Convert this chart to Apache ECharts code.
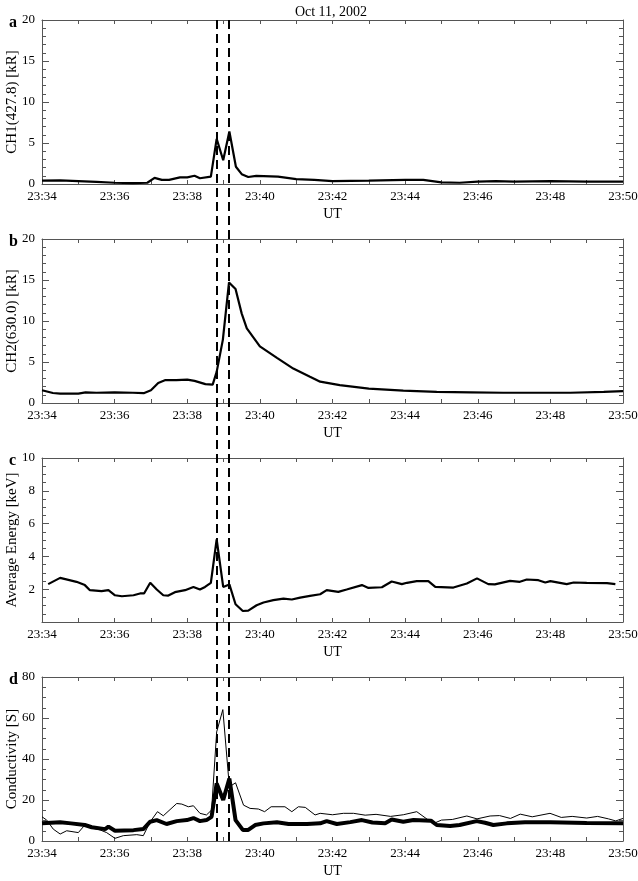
<!DOCTYPE html>
<html><head><meta charset="utf-8">
<script src="https://cdn.jsdelivr.net/npm/echarts@6/dist/echarts.min.js"></script>
<style>html,body{margin:0;padding:0;background:#fff}#c{width:638px;height:881px}</style>
</head><body><div id="c"></div>
<script>
// time in minutes after 23:34 UT
const xTicks = ['23:34','23:36','23:38','23:40','23:42','23:44','23:46','23:48','23:50'];
const eventTimes = [4.81, 5.15];

const tA = [0, 0.5, 1.0, 1.5, 2.0, 2.5, 2.9, 3.1, 3.3, 3.5, 3.8, 4.0, 4.2, 4.35, 4.65, 4.81, 4.99, 5.16, 5.34, 5.5, 5.68, 5.9, 6.5, 7.0, 7.5, 8.0, 9.0, 10.0, 10.5, 11.0, 11.5, 12.0, 12.5, 13.0, 14.0, 15.0, 16.0];
const ch1 = [0.4, 0.45, 0.35, 0.25, 0.15, 0.1, 0.15, 0.75, 0.5, 0.5, 0.8, 0.8, 1.0, 0.7, 0.9, 5.5, 2.9, 6.4, 2.1, 1.2, 0.85, 1.0, 0.9, 0.6, 0.5, 0.35, 0.4, 0.5, 0.5, 0.2, 0.15, 0.3, 0.35, 0.3, 0.35, 0.3, 0.3];

const tB = [0, 0.3, 0.5, 1.0, 1.2, 1.5, 2.0, 2.5, 2.8, 3.0, 3.2, 3.4, 3.7, 4.0, 4.2, 4.5, 4.7, 4.81, 4.98, 5.15, 5.33, 5.5, 5.64, 6.0, 6.47, 6.92, 7.38, 7.66, 8.2, 9.0, 9.95, 10.87, 11.8, 12.7, 13.6, 14.55, 15.47, 16.0];
const ch2 = [1.55, 1.22, 1.15, 1.15, 1.3, 1.25, 1.3, 1.25, 1.2, 1.55, 2.45, 2.8, 2.8, 2.85, 2.7, 2.3, 2.25, 3.8, 7.7, 14.7, 13.9, 10.9, 9.1, 6.9, 5.5, 4.2, 3.2, 2.6, 2.17, 1.76, 1.5, 1.35, 1.3, 1.25, 1.25, 1.25, 1.35, 1.45];

const tC = [0.17, 0.5, 0.95, 1.18, 1.32, 1.64, 1.83, 2.01, 2.2, 2.52, 2.7, 2.81, 2.98, 3.16, 3.34, 3.48, 3.66, 3.94, 4.17, 4.35, 4.49, 4.65, 4.81, 4.99, 5.16, 5.33, 5.53, 5.68, 5.91, 6.1, 6.37, 6.65, 6.88, 7.11, 7.38, 7.66, 7.84, 8.16, 8.39, 8.81, 8.99, 9.36, 9.63, 9.91, 10.05, 10.32, 10.64, 10.83, 11.33, 11.7, 11.98, 12.29, 12.47, 12.89, 13.16, 13.35, 13.67, 13.86, 14.0, 14.45, 14.64, 15.0, 15.56, 15.79];
const energy = [2.31, 2.69, 2.45, 2.25, 1.94, 1.88, 1.94, 1.63, 1.57, 1.63, 1.74, 1.74, 2.39, 1.98, 1.63, 1.61, 1.82, 1.94, 2.14, 1.98, 2.14, 2.39, 5.04, 2.14, 2.29, 1.08, 0.67, 0.69, 1.02, 1.19, 1.33, 1.43, 1.37, 1.49, 1.59, 1.69, 1.94, 1.84, 1.98, 2.25, 2.08, 2.12, 2.47, 2.31, 2.39, 2.49, 2.49, 2.14, 2.1, 2.35, 2.66, 2.31, 2.29, 2.51, 2.45, 2.59, 2.55, 2.41, 2.49, 2.31, 2.41, 2.39, 2.37, 2.31];

const tD1 = [0, 0.5, 0.8, 1.18, 1.37, 1.74, 1.83, 2.01, 2.52, 2.79, 2.98, 3.16, 3.43, 3.71, 3.99, 4.17, 4.35, 4.53, 4.67, 4.81, 4.99, 5.16, 5.33, 5.53, 5.68, 5.87, 6.1, 6.47, 6.79, 7.3, 7.66, 7.84, 8.12, 8.49, 8.81, 9.1, 9.45, 9.63, 9.95, 10.23, 10.71, 10.87, 11.24, 11.5, 11.97, 12.2, 12.43, 12.8, 13.3, 14.0, 15.0, 16.0];
const sigThick = [8.6, 9.1, 8.6, 7.8, 6.7, 5.8, 7.0, 5.0, 5.3, 5.8, 9.4, 10.2, 8.3, 9.7, 10.2, 11.2, 9.7, 10.2, 11.8, 28.1, 20.0, 30.5, 10.2, 5.4, 5.4, 7.8, 8.6, 9.1, 8.3, 8.3, 8.6, 9.7, 8.3, 9.2, 10.2, 9.0, 8.7, 10.5, 9.4, 10.2, 9.9, 7.8, 7.3, 7.8, 9.7, 8.9, 7.8, 8.6, 9.2, 9.2, 8.8, 8.6];

const tD2 = [0, 0.13, 0.31, 0.5, 0.68, 1.0, 1.18, 1.41, 1.6, 1.78, 2.01, 2.24, 2.61, 2.79, 2.98, 3.18, 3.34, 3.71, 3.85, 4.03, 4.17, 4.35, 4.53, 4.67, 4.81, 4.98, 5.16, 5.33, 5.55, 5.73, 5.96, 6.13, 6.31, 6.69, 6.88, 7.06, 7.25, 7.52, 7.66, 8.0, 8.3, 8.58, 8.9, 9.2, 9.6, 9.95, 10.32, 10.64, 10.83, 11.0, 11.3, 11.7, 11.98, 12.34, 12.6, 12.9, 13.17, 13.5, 13.99, 14.3, 14.6, 15.0, 15.3, 15.6, 15.8, 16.0];
const sigThin = [11.8, 10.2, 5.8, 3.4, 5.0, 4.1, 7.8, 6.2, 5.4, 4.1, 1.3, 2.6, 3.1, 2.6, 9.4, 14.3, 12.3, 18.3, 18.0, 16.7, 17.2, 13.5, 12.7, 15.1, 53.2, 64.1, 26.4, 28.4, 17.5, 15.9, 15.6, 14.3, 16.7, 16.7, 14.3, 16.7, 16.4, 12.7, 13.5, 12.8, 13.5, 13.5, 12.6, 13.0, 12.0, 12.8, 14.3, 10.2, 8.9, 10.2, 10.5, 12.2, 10.8, 12.2, 12.4, 11.0, 13.1, 11.8, 13.5, 11.5, 12.0, 11.2, 12.0, 10.8, 9.8, 11.0];

const zip = (t, v) => t.map((x, i) => [x, v[i]]);

const FONT = 'Liberation Serif';
const AX = '#555';
const L = 42, R = 15, H = 164;
const tops = [20, 239, 458, 677];

const panels = [
  {name: 'CH1(427.8) [kR]', max: 20, interval: 5, minor: 5, zero: true},
  {name: 'CH2(630.0) [kR]', max: 20, interval: 5, minor: 5, zero: true},
  {name: 'Average Energy [keV]', max: 10, interval: 2, minor: 4, zero: false},
  {name: 'Conductivity [S]', max: 80, interval: 20, minor: 4, zero: true}
];

const grid = [], xAxis = [], yAxis = [], series = [];
panels.forEach((p, i) => {
  grid.push({left: L, right: R, top: tops[i], height: H, outerBoundsMode: 'none', containLabel: false});
  const common = {type: 'value', min: 0, max: 16, interval: 2, gridIndex: i,
    axisLine: {show: true, onZero: false, lineStyle: {color: AX, width: 1}},
    axisTick: {show: true, inside: true, length: 4, lineStyle: {color: AX}},
    minorTick: {show: true, splitNumber: 2, length: 4, lineStyle: {color: AX}},
    splitLine: {show: false}};
  xAxis.push(Object.assign({}, common, {position: 'bottom',
    axisLabel: {margin: 6, color: '#000', fontFamily: FONT, fontSize: 13,
      formatter: v => xTicks[v / 2]},
    name: 'UT', nameLocation: 'middle', nameGap: 23, nameMoveOverlap: false,
    nameTextStyle: {fontFamily: FONT, fontSize: 14, color: '#000'}}));
  xAxis.push(Object.assign({}, common, {position: 'top', axisLabel: {show: false}}));
  const ycommon = {type: 'value', min: 0, max: p.max, interval: p.interval, gridIndex: i,
    axisLine: {show: true, onZero: false, lineStyle: {color: AX, width: 1}},
    axisTick: {show: true, inside: true, length: 7, lineStyle: {color: AX}},
    minorTick: {show: true, splitNumber: p.minor, length: 4, lineStyle: {color: AX}},
    splitLine: {show: false}};
  yAxis.push(Object.assign({}, ycommon, {position: 'left',
    axisLabel: {margin: 7, color: '#000', fontFamily: FONT, fontSize: 13,
      formatter: v => (v === 0 && !p.zero) ? '' : String(v)},
    name: p.name, nameLocation: 'middle', nameGap: 22, nameMoveOverlap: false,
    nameTextStyle: {fontFamily: FONT, fontSize: 15, color: '#000'}}));
  yAxis.push(Object.assign({}, ycommon, {position: 'right', axisLabel: {show: false}}));
});

const line = (data, gi, w) => ({type: 'line', data, xAxisIndex: gi * 2, yAxisIndex: gi * 2,
  symbol: 'none', lineStyle: {color: '#000', width: w}, silent: true, animation: false, z: 3});

series.push(line(zip(tA, ch1), 0, 2.2));
series.push(line(zip(tB, ch2), 1, 2.2));
series.push(line(zip(tC, energy), 2, 2.2));
series.push(line(zip(tD2, sigThin), 3, 1));
series.push(line(zip(tD1, sigThick), 3, 4));

// overlay grid spanning all panels for the dashed event lines
grid.push({left: L, right: R, top: tops[0], bottom: 881 - (tops[3] + H), outerBoundsMode: 'none', containLabel: false});
xAxis.push({type: 'value', min: 0, max: 16, gridIndex: 4, show: false});
yAxis.push({type: 'value', min: 0, max: 1, gridIndex: 4, show: false});
series.push({type: 'line', data: [], xAxisIndex: 8, yAxisIndex: 8, animation: false,
  markLine: {silent: true, symbol: 'none', label: {show: false},
    lineStyle: {color: '#000', type: [9, 5], width: 2},
    data: eventTimes.map(t => ({xAxis: t}))}});

const chart = echarts.init(document.getElementById('c'), null, {renderer: 'canvas'});
chart.setOption({
  animation: false,
  backgroundColor: '#fff',
  title: [
    {text: 'Oct 11, 2002', left: 326, textAlign: 'center', top: 0, textStyle: {fontFamily: FONT, fontSize: 14, fontWeight: 'normal', color: '#000'}},
    ...['a', 'b', 'c', 'd'].map((s, i) => ({text: s, left: 4, top: tops[i] - 10,
      textStyle: {fontFamily: FONT, fontSize: 16, fontWeight: 'bold', color: '#000'}}))
  ],
  grid, xAxis, yAxis, series
});
</script></body></html>
